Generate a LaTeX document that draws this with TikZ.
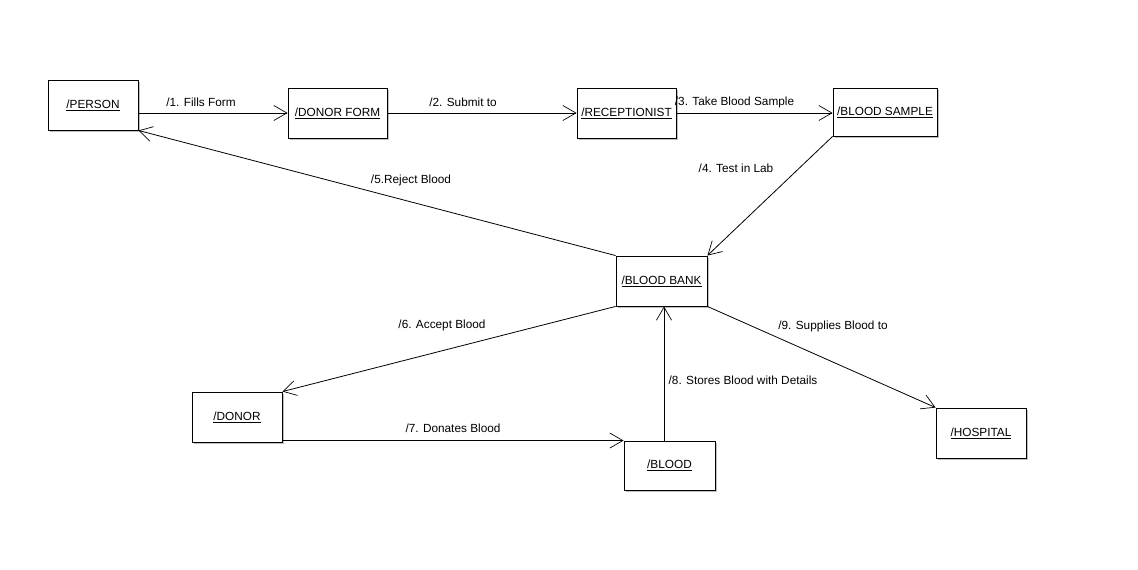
\documentclass[tikz,border=0pt]{standalone}
\usepackage{fontspec}
\setmainfont{Liberation Sans}
\usetikzlibrary{arrows.meta,shadows}
\tikzset{
  obj/.style={draw=black, line width=0.9pt, fill=white, inner sep=0pt,
    font=\fontsize{11.8}{14}\selectfont,
    drop shadow={shadow xshift=2pt, shadow yshift=-2pt, fill=black!25, opacity=1}},
  msg/.style={font=\fontsize{11.8}{14}\selectfont, inner sep=0pt},
  conn/.style={line width=0.8pt, -{Straight Barb[length=13pt,width=15pt,line width=0.7pt]}}
}
\begin{document}
\begin{tikzpicture}[x=1pt,y=-1pt]
\useasboundingbox[fill=white] (0,0) rectangle (1138,570);
\node[obj, minimum width=90pt, minimum height=50pt] (person) at (93,105) {\underline{/PERSON}};
\node[obj, minimum width=99pt, minimum height=50pt] (donorform) at (337.5,113) {\underline{/DONOR FORM}};
\node[obj, minimum width=99pt, minimum height=50pt] (recept) at (626.5,113) {\underline{/RECEPTIONIST}};
\node[obj, minimum width=104pt, minimum height=48pt] (sample) at (885,112) {\underline{/BLOOD SAMPLE}};
\node[obj, minimum width=91pt, minimum height=50pt] (bank) at (661.5,281) {\underline{/BLOOD BANK}};
\node[obj, minimum width=90pt, minimum height=50pt] (donor) at (237,417) {\underline{/DONOR}};
\node[obj, minimum width=91pt, minimum height=49pt] (blood) at (669.5,465.5) {\underline{/BLOOD}};
\node[obj, minimum width=90pt, minimum height=50pt] (hospital) at (981,433) {\underline{/HOSPITAL}};

\draw[conn] (person.east |- donorform.west) -- (donorform.west);
\draw[conn] (donorform.east) -- (recept.west);
\draw[conn] (recept.east) -- (recept.east -| sample.west);
\draw[conn] (sample.south west) -- (bank.north east);
\draw[conn] (bank.north west) -- (person.south east);
\draw[conn] (bank.south west) -- (donor.north east);
\draw[conn] (donor.east |- blood.north west) -- (blood.north west);
\draw[conn] ([xshift=2.5pt]bank.south |- blood.north) -- ([xshift=2.5pt]bank.south);
\draw[conn] (bank.south east) -- (hospital.north west);

\node[msg] (l1) at (201,102) {/1. Fills Form};
\node[msg] (l2) at (463,102) {/2. Submit to};
\node[msg] (l3) at (734.5,102) {/3. Take Blood Sample};
\node[msg] (l4) at (736,168) {/4. Test in Lab};
\node[msg] (l5) at (411,180) {/5.Reject Blood};
\node[msg] (l6) at (442,325) {/6. Accept Blood};
\node[msg] (l7) at (453,428) {/7. Donates Blood};
\node[msg] (l8) at (743,380) {/8. Stores Blood with Details};
\node[msg] (l9) at (833,326) {/9. Supplies Blood to};
\end{tikzpicture}
\end{document}
